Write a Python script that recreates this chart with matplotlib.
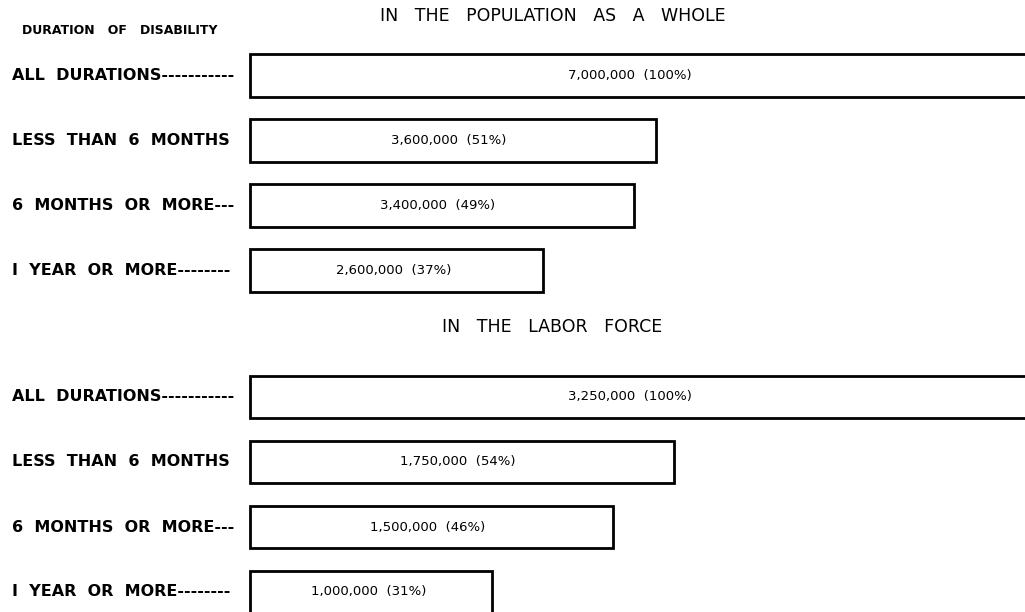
import matplotlib.pyplot as plt
from matplotlib.transforms import blended_transform_factory

# duration categories (labels carry the dash leaders of the original)
labels = ["ALL  DURATIONS-----------",
          "LESS  THAN  6  MONTHS",
          "6  MONTHS  OR  MORE---",
          "I  YEAR  OR  MORE--------"]

# thousands of disabled persons
population = [7000, 3600, 3400, 2600]
population_pct = [100, 51, 49, 37]
labor_force = [3250, 1750, 1500, 1000]
labor_force_pct = [100, 54, 46, 31]

W, H = 1025, 612
fig = plt.figure(figsize=(W / 100, H / 100), dpi=100)
fig.patch.set_facecolor("white")


def panel(top, bottom, xmax):
    # axes placed in pixel units of the figure
    ax = fig.add_axes([250 / W, 1 - bottom / H, (W - 250) / W, (bottom - top) / H])
    ax.set_xlim(0, xmax)
    ax.set_ylim(len(labels) - 0.5, -0.5)
    ax.axis("off")
    return ax


def draw(ax, values, pcts):
    bars = ax.barh(range(len(values)), values, height=0.66, left=0,
                   color="white", edgecolor="black", linewidth=2)
    for b in bars:
        b.set_clip_on(False)
    xmax = ax.get_xlim()[1]
    tr = blended_transform_factory(fig.transFigure, ax.transData)
    for i, (lab, v, p) in enumerate(zip(labels, values, pcts)):
        ax.text(12 / W, i, lab, transform=tr, ha="left", va="center",
                fontsize=11.5, fontweight="bold", color="black")
        ax.text(min(v, xmax) / 2 * 0.98, i, f"{v * 1000:,}  ({p}%)",
                ha="center", va="center", fontsize=9.5, color="black")


top_ax = panel(42.5, 303.5, 775 / 0.1128)
draw(top_ax, population, population_pct)

bot_ax = panel(364.5, 624.5, 775 / 0.242)
draw(bot_ax, labor_force, labor_force_pct)

fig.text(553 / W, 1 - 16 / H, "IN   THE   POPULATION   AS   A   WHOLE", ha="center",
         va="center", fontsize=12.5, color="black")
fig.text(552 / W, 1 - 327 / H, "IN   THE   LABOR   FORCE", ha="center",
         va="center", fontsize=12.5, color="black")
fig.text(22 / W, 1 - 31 / H, "DURATION   OF   DISABILITY", ha="left",
         va="center", fontsize=9, fontweight="bold", color="black")

fig.savefig("out.png", dpi=100, facecolor="white")
